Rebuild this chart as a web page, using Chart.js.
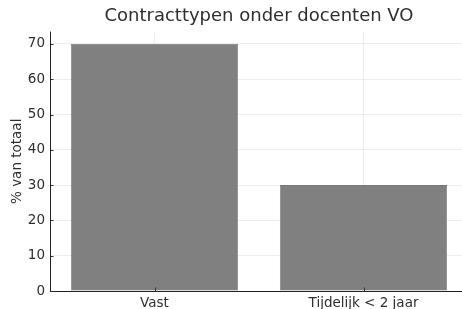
<!DOCTYPE html>
<html>
<head>
<meta charset="utf-8">
<script src="https://cdn.jsdelivr.net/npm/chart.js@4"></script>
<style>
  html, body { margin: 0; padding: 0; background: #fff; overflow: hidden; }
  #wrap { width: 468px; height: 309px; }
</style>
</head>
<body>
<div id="wrap"><canvas id="chart"></canvas></div>
<script>
  // data
  const categories = ['Vast', 'Tijdelijk < 2 jaar'];
  const percentages = [70, 30];
  const yTicks = [0, 10, 20, 30, 40, 50, 60, 70];

  const FONT = "'DejaVu Sans', sans-serif";
  const TEXT = '#2e2e2e';

  // short inward tick marks like matplotlib
  const innerTicks = {
    id: 'innerTicks',
    afterDraw(chart) {
      const ctx = chart.ctx;
      const a = chart.chartArea;
      const x = chart.scales.x, y = chart.scales.y;
      ctx.save();
      ctx.strokeStyle = '#333';
      ctx.lineWidth = 1;
      ctx.beginPath();
      yTicks.forEach(v => {
        const py = Math.round(y.getPixelForValue(v)) + 0.5;
        ctx.moveTo(a.left, py);
        ctx.lineTo(a.left + 3.5, py);
      });
      categories.forEach((c, i) => {
        const px = Math.round(x.getPixelForValue(i)) + 0.5;
        ctx.moveTo(px, a.bottom);
        ctx.lineTo(px, a.bottom - 3.5);
      });
      ctx.stroke();
      // left and bottom spines
      ctx.strokeStyle = '#222';
      ctx.beginPath();
      ctx.moveTo(a.left + 0.5, a.top);
      ctx.lineTo(a.left + 0.5, a.bottom + 0.5);
      ctx.lineTo(a.right, a.bottom + 0.5);
      ctx.stroke();
      ctx.restore();
    }
  };

  const ctx = document.getElementById('chart').getContext('2d');
  new Chart(ctx, {
    type: 'bar',
    data: {
      labels: categories,
      datasets: [{
        data: percentages,
        backgroundColor: '#808080',
        borderColor: '#777777',
        borderWidth: 0.8,
        barPercentage: 0.8,
        categoryPercentage: 1.0
      }]
    },
    options: {
      responsive: true,
      maintainAspectRatio: false,
      animation: false,
      layout: { padding: { left: 0, right: 0, top: 0, bottom: 0 } },
      plugins: {
        legend: { display: false },
        tooltip: { enabled: false },
        title: {
          display: true,
          fullSize: false,
          text: 'Contracttypen onder docenten VO',
          color: TEXT,
          font: { family: FONT, size: 18, weight: 'normal' },
          padding: { top: 6, bottom: 4 }
        }
      },
      scales: {
        x: {
          z: 1,
          grid: { offset: false, color: 'rgba(200,200,200,0.3)', drawTicks: false },
          border: { display: false },
          ticks: { color: TEXT, padding: 4, font: { family: FONT, size: 13.5 } },
          afterFit(s) { s.height = 18; }
        },
        y: {
          z: 1,
          min: 0,
          max: 73.5,
          grid: { color: 'rgba(200,200,200,0.3)', drawTicks: false },
          border: { display: false },
          afterBuildTicks(s) { s.ticks = yTicks.map(v => ({ value: v })); },
          ticks: { color: TEXT, padding: 5, font: { family: FONT, size: 13.5 } },
          title: {
            display: true,
            text: '% van totaal',
            color: TEXT,
            font: { family: FONT, size: 13.5 },
            padding: { top: 9, bottom: 0 }
          },
          afterFit(s) { s.width = 50; }
        }
      }
    },
    plugins: [innerTicks]
  });
</script>
</body>
</html>
